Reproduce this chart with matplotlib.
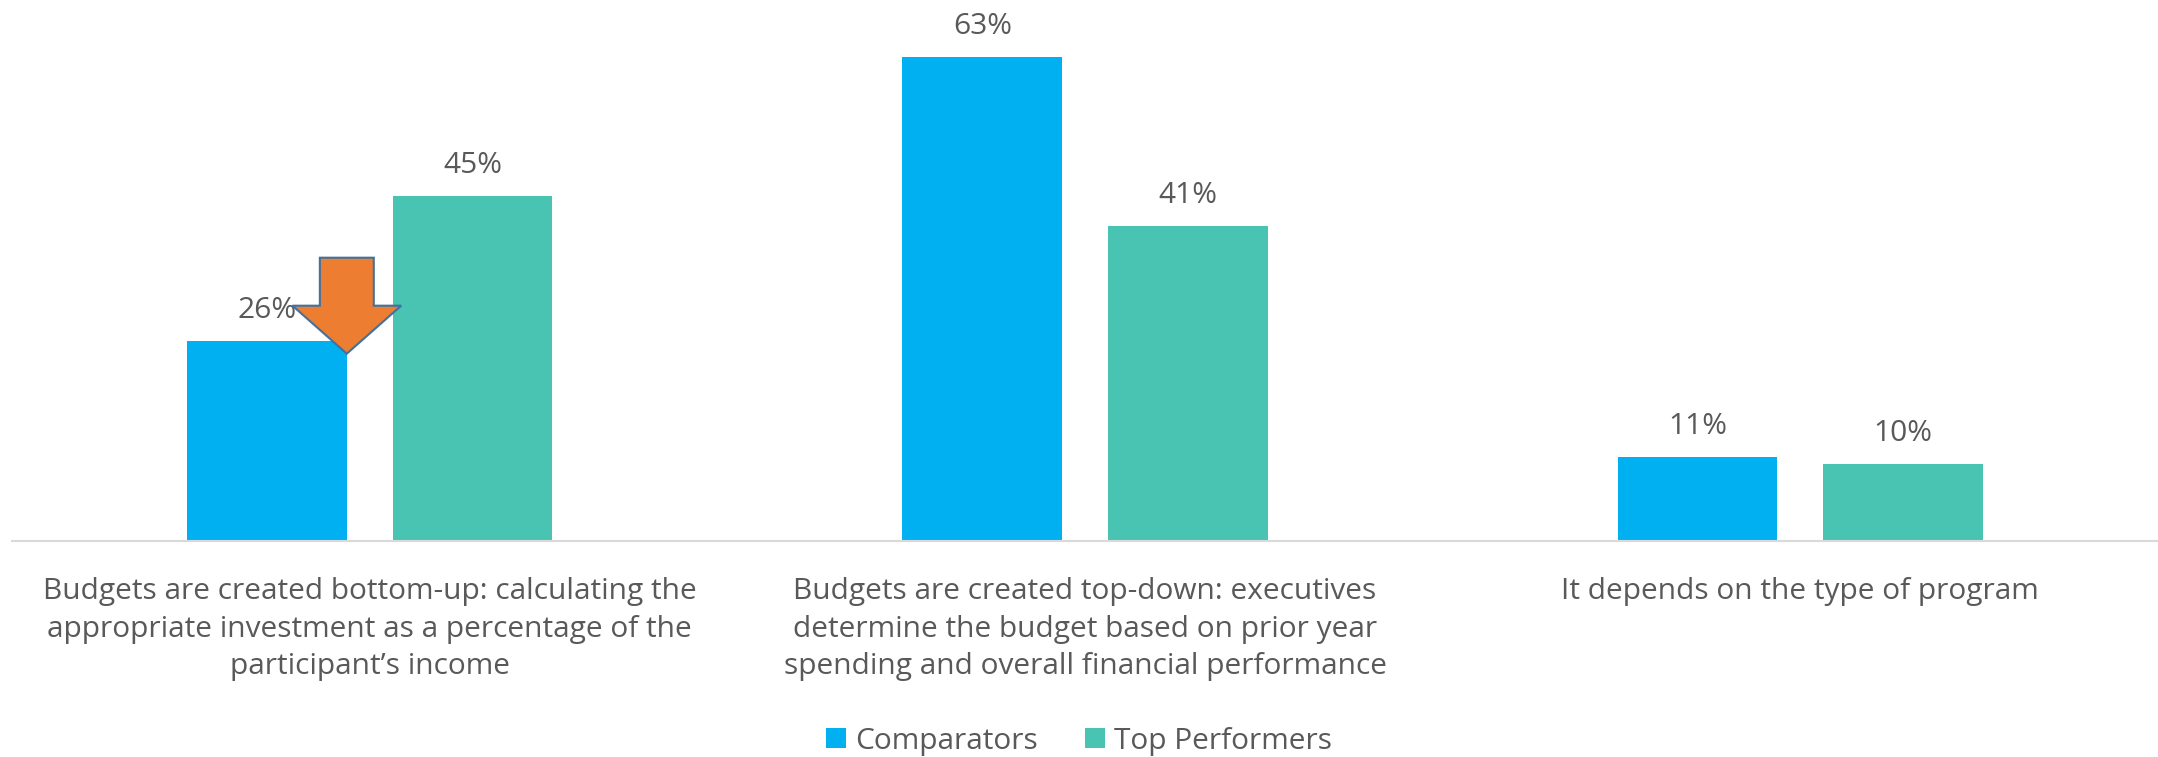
import matplotlib.pyplot as plt
from matplotlib.patches import Polygon

plt.rcParams['font.family'] = ['Open Sans', 'DejaVu Sans']

categories = [
    "Budgets are created bottom-up: calculating the\nappropriate investment as a percentage of the\nparticipant\u2019s income",
    "Budgets are created top-down: executives\ndetermine the budget based on prior year\nspending and overall financial performance",
    "It depends on the type of program",
]
comparators = [26, 63, 11]
top_performers = [45, 41, 10]

c_comp = '#00B0F0'
c_top = '#4AC4B2'
text_c = '#595959'
fs = 21.5

fig = plt.figure(figsize=(21.58, 7.57), dpi=100)
ax = fig.add_axes([0.0056, 0.2853, 0.9944, 0.710])

x = list(range(len(categories)))
w = 0.2233
off = 0.1437

b1 = ax.bar([i - off for i in x], comparators, w, color=c_comp, label='Comparators')
b2 = ax.bar([i + off for i in x], top_performers, w, color=c_top, label='Top Performers')

for bars, vals in ((b1, comparators), (b2, top_performers)):
    for r, v in zip(bars, vals):
        ax.annotate(f"{v}%", (r.get_x() + r.get_width() / 2, v),
                    xytext=(0, 11.5), textcoords='offset points',
                    ha='center', va='bottom', fontsize=fs, color=text_c)

# down arrow pointing at the top-right corner of the first comparator bar
r = b1[0]
tx = r.get_x() + r.get_width()
ty = comparators[0] - 1.6
hw, hl, sw, sl = 0.076, 6.25, 0.0377, 12.5
pts = [(tx, ty), (tx - hw, ty + hl), (tx - sw, ty + hl), (tx - sw, ty + sl),
       (tx + sw, ty + sl), (tx + sw, ty + hl), (tx + hw, ty + hl)]
ax.add_patch(Polygon(pts, closed=True, facecolor='#ED7D31', edgecolor='#41719C',
                     linewidth=1.5, zorder=5))

ax.set_xlim(-0.5, 2.5)
ax.set_ylim(0, 70)
ax.set_xticks(x)
ax.set_xticklabels(categories, fontsize=fs, color=text_c, linespacing=1.39)
ax.tick_params(axis='x', length=0, pad=26)
ax.set_yticks([])
for s in ('top', 'right', 'left'):
    ax.spines[s].set_visible(False)
ax.spines['bottom'].set_color('#D9D9D9')
ax.spines['bottom'].set_linewidth(1.5)

fig.legend(handles=[b1, b2], loc='center', bbox_to_anchor=(0.5, 0.021), ncol=2,
           frameon=False, fontsize=fs, labelcolor=text_c,
           handlelength=0.65, handleheight=0.65, handletextpad=0.3, columnspacing=1.6)

fig.savefig('out.png', dpi=100)
